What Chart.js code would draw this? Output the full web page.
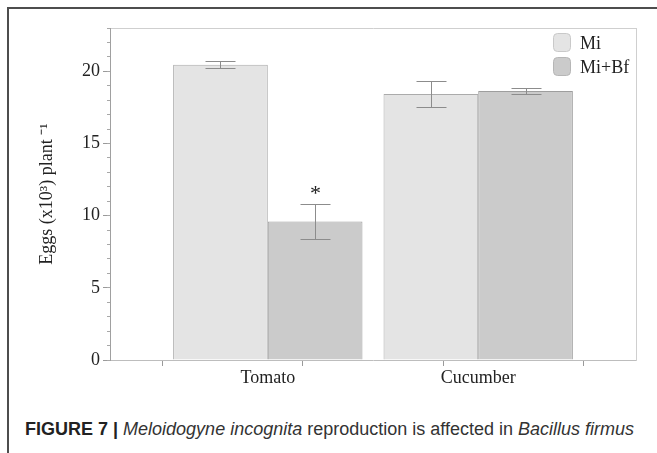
<!DOCTYPE html>
<html>
<head>
<meta charset="utf-8">
<script src="https://cdn.jsdelivr.net/npm/chart.js@4.4.0/dist/chart.umd.min.js"></script>
<style>
  html, body { margin: 0; padding: 0; background: #fff; }
  body { width: 657px; height: 453px; position: relative; overflow: hidden; }
  #frame { position: absolute; left: 7px; top: 7px; width: 700px; height: 500px;
           border-left: 2px solid #4d4d4d; border-top: 2px solid #4d4d4d; }
  #wrap { position: absolute; left: 0; top: 0; width: 657px; height: 400px; }
  #caption { position: absolute; left: 25px; top: 419px; font-family: "Liberation Sans", Arial, sans-serif;
             font-size: 18px; line-height: 20px; color: #333; white-space: nowrap; }
  #caption b { color: #222; }
</style>
</head>
<body>
<div id="frame"></div>
<div id="wrap"><canvas id="eggsChart" width="657" height="400"></canvas></div>
<div id="caption"><b>FIGURE 7 |</b> <i>Meloidogyne incognita</i> reproduction is affected in <i>Bacillus firmus</i></div>
<script>
// values (eggs x10^3 per plant)
const categories = ['Tomato', 'Cucumber'];
const seriesLabels = ['Mi', 'Mi+Bf'];
const miMeans = [20.45, 18.42];
const miErr = [0.25, 0.88];
const miBfMeans = [9.6, 18.64];
const miBfErr = [1.22, 0.21];
const miMarks = ['', ''];
const miBfMarks = ['*', ''];
const yTickValues = [0, 5, 10, 15, 20];
const yMax = 23;
const categoryEdges = [-0.5, 0.5, 1.5];

const SERIF = '"Liberation Serif", "Times New Roman", serif';
const minorTicks = [];
for (let v = 0; v <= yMax; v++) minorTicks.push(v);

function points(values) {
    return values.map((v, i) => ({ x: i, y: v }));
}

// error bars + significance marks, placed with the y scale
const errorBars = {
    id: 'errorBars',
    afterDatasetsDraw(chart) {
        const ctx = chart.ctx;
        const yScale = chart.scales.y;
        ctx.save();
        chart.data.datasets.forEach((ds, di) => {
            const meta = chart.getDatasetMeta(di);
            meta.data.forEach((bar, i) => {
                const v = ds.data[i].y;
                const e = ds.err[i];
                const x = Math.round(bar.x) + 0.5;
                const top = Math.round(yScale.getPixelForValue(v + e)) + 0.5;
                const bot = Math.round(yScale.getPixelForValue(v - e)) + 0.5;
                ctx.strokeStyle = '#8c8c8c';
                ctx.lineWidth = 1;
                ctx.beginPath();
                ctx.moveTo(x, top); ctx.lineTo(x, bot);
                ctx.moveTo(x - 15, top); ctx.lineTo(x + 15, top);
                ctx.moveTo(x - 15, bot); ctx.lineTo(x + 15, bot);
                ctx.stroke();
                if (ds.marks[i]) {
                    ctx.fillStyle = '#222';
                    ctx.font = '22px ' + SERIF;
                    ctx.textAlign = 'center';
                    ctx.textBaseline = 'middle';
                    ctx.fillText(ds.marks[i], x, top - 10);
                }
            });
        });
        ctx.restore();
    }
};

// legend drawn inside the plot, top right
const insideLegend = {
    id: 'insideLegend',
    afterDraw(chart) {
        const { ctx, chartArea } = chart;
        ctx.save();
        chart.data.datasets.forEach((ds, i) => {
            const bx = chartArea.right - 83;
            const by = chartArea.top + 5 + i * 24;
            ctx.beginPath();
            ctx.roundRect(bx + 0.5, by + 0.5, 17, 18, 4);
            ctx.fillStyle = ds.backgroundColor;
            ctx.fill();
            ctx.strokeStyle = ds.legendBorder;
            ctx.lineWidth = 1;
            ctx.stroke();
            ctx.fillStyle = '#222';
            ctx.font = '18px ' + SERIF;
            ctx.textAlign = 'left';
            ctx.textBaseline = 'middle';
            ctx.fillText(ds.label, bx + 27, by + 11);
        });
        ctx.restore();
    }
};

const ctx = document.getElementById('eggsChart');
new Chart(ctx, {
    type: 'bar',
    data: {
        datasets: [{
            label: seriesLabels[0],
            data: points(miMeans),
            err: miErr,
            marks: miMarks,
            xAxisID: 'x',
            yAxisID: 'y',
            backgroundColor: '#e4e4e4',
            borderColor: '#ababab',
            legendBorder: '#c9c9c9',
            borderWidth: 1
        }, {
            label: seriesLabels[1],
            data: points(miBfMeans),
            err: miBfErr,
            marks: miBfMarks,
            xAxisID: 'x',
            yAxisID: 'y',
            backgroundColor: '#cbcbcb',
            borderColor: '#9e9e9e',
            legendBorder: '#b6b6b6',
            borderWidth: 1
        }]
    },
    options: {
        responsive: false,
        animation: false,
        categoryPercentage: 0.9,
        barPercentage: 1.0,
        layout: { padding: { left: 0, top: 28, right: 21, bottom: 0 } },
        plugins: {
            legend: { display: false },
            tooltip: { enabled: false }
        },
        scales: {
            x: {
                type: 'linear', axis: 'x', position: 'bottom', weight: 1,
                min: -0.75, max: 1.75, offset: false,
                afterBuildTicks: a => { a.ticks = categories.map((c, i) => ({ value: i })); },
                ticks: {
                    callback: v => categories[v] ?? '',
                    font: { family: SERIF, size: 18 },
                    color: '#222', padding: 1, maxRotation: 0, autoSkip: false
                },
                grid: { drawOnChartArea: false, tickLength: 6, tickColor: 'rgba(0,0,0,0)', offset: false },
                border: { color: '#bdbdbd' },
                afterFit: s => { s.height = 40; }
            },
            xEdges: {
                type: 'linear', axis: 'x', position: 'bottom', weight: 0,
                min: -0.75, max: 1.75,
                afterBuildTicks: a => { a.ticks = categoryEdges.map(v => ({ value: v })); },
                ticks: { display: false },
                grid: { drawOnChartArea: false, tickLength: 6, tickColor: '#9a9a9a' },
                border: { display: false },
                afterFit: s => { s.height = 0; }
            },
            xTop: {
                type: 'linear', axis: 'x', position: 'top',
                min: -0.75, max: 1.75,
                ticks: { display: false },
                grid: { display: false },
                border: { color: '#cfcfcf' },
                afterFit: s => { s.height = 0; }
            },
            y: {
                type: 'linear', axis: 'y', position: 'left', weight: 1,
                min: 0, max: yMax,
                afterBuildTicks: a => { a.ticks = yTickValues.map(v => ({ value: v })); },
                ticks: { font: { family: SERIF, size: 18 }, color: '#222', padding: 3 },
                grid: { drawOnChartArea: false, tickLength: 7, tickColor: '#9a9a9a' },
                border: { color: '#a0a0a0' },
                title: {
                    display: true,
                    text: 'Eggs (x10³) plant ⁻¹',
                    font: { family: SERIF, size: 18 },
                    color: '#222',
                    padding: { top: 36, bottom: 0 }
                },
                afterFit: s => { s.width = 110; }
            },
            yMinor: {
                type: 'linear', axis: 'y', position: 'left', weight: 0,
                min: 0, max: yMax,
                afterBuildTicks: a => { a.ticks = minorTicks.map(v => ({ value: v })); },
                ticks: { display: false },
                grid: { drawOnChartArea: false, tickLength: 3, tickColor: '#a8a8a8' },
                border: { display: false },
                afterFit: s => { s.width = 0; }
            },
            yRight: {
                type: 'linear', axis: 'y', position: 'right',
                min: 0, max: yMax,
                ticks: { display: false },
                grid: { display: false },
                border: { color: '#cfcfcf' },
                afterFit: s => { s.width = 0; }
            }
        }
    },
    plugins: [errorBars, insideLegend]
});
</script>
</body>
</html>
